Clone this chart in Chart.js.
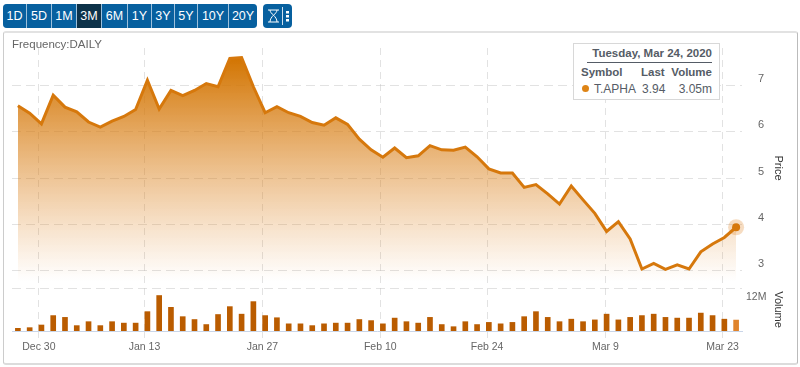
<!DOCTYPE html>
<html>
<head>
<meta charset="utf-8">
<script src="https://cdn.jsdelivr.net/npm/chart.js@4"></script>
<style>
    body { margin: 0; background: #fff; font-family: "Liberation Sans", sans-serif; }
    #wrap { position: relative; width: 800px; height: 367px; overflow: hidden; }
    #panel { position: absolute; left: 3px; top: 31px; width: 793px; height: 330px; border: 1px solid #ccc; border-top: 2px solid #e2e2e2; border-bottom: 2px solid #dcdcdc; border-right-color: #bbb; border-radius: 3px; }
    #myChart { position: absolute; left: 0; top: 0; }
    .btns { position: absolute; top: 4px; height: 24px; display: flex; background: #9dc0dc; border-radius: 4px; overflow: hidden; }
    .btns span { display: block; background: #07609f; color: #fff; font-size: 12.5px; line-height: 24px; text-align: center; margin-right: 1px; }
    .btns span:last-child { margin-right: 0; }
    .btns span.on { background: #0d3249; }
    #freq { position: absolute; left: 12px; top: 38px; font-size: 11.5px; color: #666; }
    #tip { position: absolute; left: 573px; top: 43px; width: 145px; height: 55px; background: #fff; border: 1px solid #d8d8d8; color: #555c66; font-size: 12px; }
    #tip div { position: absolute; white-space: nowrap; }
    #tip .b { font-weight: bold; font-size: 11.5px; }
    #tip .dot { width: 7px; height: 7px; border-radius: 50%; background: #de8416; left: 8px; top: 41px; }
</style>
</head>
<body>
<div id="wrap">
    <div class="btns" style="left:3px">
        <span style="width:23px">1D</span><span style="width:24px">5D</span><span style="width:24px">1M</span><span class="on" style="width:24px">3M</span><span style="width:25px">6M</span><span style="width:23px">1Y</span><span style="width:22px">3Y</span><span style="width:22px">5Y</span><span style="width:30px">10Y</span><span style="width:28px">20Y</span>
    </div>
    <div class="btns" style="left:263px;width:29px;background:#07609f">
        <svg width="29" height="24" viewBox="0 0 29 24">
            <path d="M5 6h11M5 18h11M7 6c0 4 7 6 7 12M14 6c0 4-7 6-7 12" fill="none" stroke="#fff" stroke-width="1"/>
            <path d="M19.5 3v18" stroke="#cfe0ee" stroke-width="1"/>
            <path d="M23 7h3v2.5h-3zM23 11h3v2.5h-3zM23 15h3v2.5h-3z" fill="#fff"/>
        </svg>
    </div>
    <div id="panel"></div>
    <canvas id="myChart" width="800" height="367"></canvas>
    <div id="freq">Frequency:DAILY</div>
    <div id="tip">
        <div class="b" style="right:7px;top:3px">Tuesday, Mar 24, 2020</div>
        <div style="left:13px;right:7px;top:18px;height:1px;background:#555c66"></div>
        <div class="b" style="left:7px;top:22px">Symbol</div>
        <div class="b" style="left:67px;top:22px">Last</div>
        <div class="b" style="right:7px;top:22px">Volume</div>
        <div class="dot"></div>
        <div style="left:20px;top:38px">T.APHA</div>
        <div style="left:68px;top:38px">3.94</div>
        <div style="right:7px;top:38px">3.05m</div>
    </div>
</div>
<script>
const dates = [
    'Dec 24', 'Dec 27', 'Dec 30', 'Dec 31', 'Jan 2', 'Jan 3', 'Jan 6', 'Jan 7', 'Jan 8', 'Jan 9', 'Jan 10',
    'Jan 13', 'Jan 14', 'Jan 15', 'Jan 16', 'Jan 17', 'Jan 20', 'Jan 21', 'Jan 22', 'Jan 23', 'Jan 24',
    'Jan 27', 'Jan 28', 'Jan 29', 'Jan 30', 'Jan 31', 'Feb 3', 'Feb 4', 'Feb 5', 'Feb 6', 'Feb 7',
    'Feb 10', 'Feb 11', 'Feb 12', 'Feb 13', 'Feb 14', 'Feb 18', 'Feb 19', 'Feb 20', 'Feb 21',
    'Feb 24', 'Feb 25', 'Feb 26', 'Feb 27', 'Feb 28', 'Mar 2', 'Mar 3', 'Mar 4', 'Mar 5', 'Mar 6',
    'Mar 9', 'Mar 10', 'Mar 11', 'Mar 12', 'Mar 13', 'Mar 16', 'Mar 17', 'Mar 18', 'Mar 19', 'Mar 20',
    'Mar 23', 'Mar 24'
];
const closes = [
    6.56, 6.40, 6.17, 6.79, 6.53, 6.43, 6.21, 6.10, 6.23, 6.33, 6.48,
    7.11, 6.49, 6.89, 6.78, 6.89, 7.04, 6.97, 7.58, 7.60, 6.97,
    6.41, 6.54, 6.41, 6.33, 6.20, 6.14, 6.30, 6.16, 5.84, 5.61,
    5.45, 5.65, 5.44, 5.48, 5.70, 5.61, 5.60, 5.67, 5.46,
    5.20, 5.11, 5.11, 4.80, 4.86, 4.66, 4.44, 4.83, 4.53, 4.24,
    3.85, 4.06, 3.69, 3.04, 3.16, 3.03, 3.13, 3.04, 3.41, 3.58,
    3.72, 3.94
];
const volumes = [
    0.75, 0.93, 1.67, 4.3, 3.8, 1.5, 2.6, 1.5, 2.6, 2.2, 2.2,
    5.4, 9.9, 6.6, 4.0, 3.2, 1.8, 4.6, 6.8, 4.7, 8.2,
    4.3, 3.7, 2.0, 2.0, 1.5, 2.0, 2.2, 2.2, 3.2, 2.9,
    2.0, 3.6, 2.6, 2.2, 3.8, 1.8, 1.2, 2.6, 1.8,
    2.4, 2.0, 2.4, 4.0, 5.4, 3.8, 2.6, 3.3, 2.6, 3.1,
    4.7, 3.1, 3.8, 4.3, 4.7, 3.8, 3.6, 3.6, 5.0, 4.3,
    3.3, 3.05
];
const dateTicks = ['Dec 30', 'Jan 13', 'Jan 27', 'Feb 10', 'Feb 24', 'Mar 9', 'Mar 23'];
// the source draws its date gridlines a little left of the day they belong to
const dateTickPositions = [1.78, 10.75, 20.77, 30.78, 39.85, 49.9, 59.85];
const priceTicks = [3, 4, 5, 6, 7];
const volumeTicks = [12];

const last = closes.length - 1;
const gridColor = 'rgba(190, 190, 190, 0.45)';

function fitWidth(axis) {
    axis.width = 58;
}

function fadeFill(context) {
    const area = context.chart.chartArea;
    if (!area) return 'transparent';
    const gradient = context.chart.ctx.createLinearGradient(0, 57, 0, 281);
    gradient.addColorStop(0, 'rgba(210, 116, 0, 1)');
    gradient.addColorStop(1, 'rgba(226, 140, 50, 0)');
    return gradient;
}

new Chart(document.getElementById('myChart'), {
    data: {
        labels: dates,
        datasets: [{
            type: 'line',
            data: closes,
            yAxisID: 'price',
            borderColor: '#d6780c',
            borderWidth: 3,
            backgroundColor: fadeFill,
            fill: 'start',
            tension: 0,
            pointRadius: (c) => c.dataIndex === last ? 4 : 0,
            pointBackgroundColor: '#d6780c',
            pointBorderWidth: 0,
            order: 1
        }, {
            type: 'line',
            data: closes.map((v, i) => i === last ? v : null),
            yAxisID: 'price',
            showLine: false,
            pointRadius: 8,
            pointBackgroundColor: 'rgba(226, 140, 50, 0.3)',
            pointBorderWidth: 0,
            order: 2
        }, {
            type: 'bar',
            data: volumes,
            yAxisID: 'volume',
            barThickness: 5,
            backgroundColor: (c) => c.dataIndex === last ? '#e0842c' : '#ba5c00',
            order: 3
        }]
    },
    options: {
        responsive: false,
        animation: false,
        events: [],
        layout: { padding: { top: 48, left: 12, right: 0, bottom: 0 } },
        plugins: { legend: { display: false }, tooltip: { enabled: false } },
        scales: {
            x: {
                type: 'category',
                offset: true,
                afterBuildTicks: (axis) => { axis.ticks = dateTickPositions.map((value) => ({ value })); },
                afterFit: (axis) => { axis.height = 36; },
                grid: { offset: false, color: gridColor, tickColor: gridColor, tickLength: 7, tickBorderDash: [7, 5] },
                border: { color: '#c9d5e8', width: 1, dash: [7, 5] },
                ticks: {
                    autoSkip: false,
                    maxRotation: 0,
                    padding: 3,
                    color: '#666',
                    font: { family: 'Liberation Sans', size: 10.5 },
                    callback: (value, index) => dateTicks[index]
                }
            },
            price: {
                type: 'linear',
                position: 'right',
                stack: 'main',
                stackWeight: 240,
                min: 2.63,
                max: 7.806,
                afterBuildTicks: (axis) => { axis.ticks = priceTicks.map((value) => ({ value })); },
                afterFit: fitWidth,
                grid: { color: gridColor, drawTicks: false },
                border: { display: false, dash: [9, 5] },
                ticks: { padding: 16, labelOffset: -6.5, color: '#666', font: { family: 'Liberation Sans', size: 11 } },
                title: { display: true, text: 'Price', color: '#333', font: { family: 'Liberation Sans', size: 11 }, padding: { top: 15, bottom: 0 } }
            },
            volume: {
                type: 'linear',
                position: 'right',
                stack: 'main',
                stackWeight: 43,
                min: 0,
                max: 12,
                afterBuildTicks: (axis) => { axis.ticks = volumeTicks.map((value) => ({ value })); },
                afterFit: fitWidth,
                grid: { color: gridColor, drawTicks: false },
                border: { display: false, dash: [9, 5] },
                ticks: { padding: 4, labelOffset: 9, color: '#666', font: { family: 'Liberation Sans', size: 10.5 }, callback: (value) => value + 'M' },
                title: { display: true, text: 'Volume', color: '#333', font: { family: 'Liberation Sans', size: 11 }, padding: { top: 15, bottom: 0 } }
            }
        }
    }
});
</script>
</body>
</html>
